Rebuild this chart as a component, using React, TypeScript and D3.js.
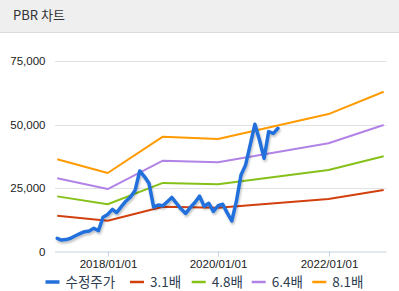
import React from "react";
import * as d3 from "d3";

const priceDates: string[] = [
  "2017-02-01","2017-03-01","2017-04-01","2017-05-01","2017-06-01","2017-07-01","2017-08-01","2017-09-01","2017-10-01","2017-11-01","2017-12-01",
  "2018-01-01","2018-02-01","2018-03-01","2018-04-01","2018-05-01","2018-06-01","2018-07-01","2018-08-01","2018-09-01","2018-10-01","2018-11-01","2018-12-01",
  "2019-01-01","2019-02-01","2019-03-01","2019-04-01","2019-05-01","2019-06-01","2019-07-01","2019-08-01","2019-09-01","2019-10-01","2019-11-01","2019-12-01",
  "2020-01-01","2020-02-01","2020-03-01","2020-04-01","2020-05-01","2020-06-01","2020-07-01","2020-08-01","2020-09-01","2020-10-01","2020-11-01","2020-12-01",
  "2021-01-01","2021-02-01",
];
const priceValues: number[] = [
  5200,4500,4700,5200,6200,7000,7800,8070,9130,8200,13500,
  14600,16600,15300,17650,19800,21500,24000,31700,29500,26900,17500,18300,
  18000,19700,21300,19000,16800,15000,17300,19300,21800,17800,19000,15800,
  18000,18600,15300,12000,19600,30100,34000,42000,50100,44000,36700,47200,
  46500,48500,
];

const bandDates: string[] = ["2017-02-01","2018-01-01","2019-01-01","2020-01-01","2022-01-01","2023-01-01"];
const band31: number[] = [14100,12100,17650,17250,20700,24200];
const band48: number[] = [21700,18600,27000,26450,32100,37500];
const band64: number[] = [28800,24600,35750,35100,42600,49800];
const band81: number[] = [36300,30900,45200,44300,54100,62900];

const seriesNames: string[] = ["수정주가","3.1배","4.8배","6.4배","8.1배"];
const seriesColors: string[] = ["#2370dc","#d2400e","#86c11a","#b183e6","#ff9b00"];
const yTicks: number[] = [0,25000,50000,75000];
const xTickDates: string[] = ["2018-01-01","2020-01-01","2022-01-01"];
const xTickLabels: string[] = ["2018/01/01","2020/01/01","2022/01/01"];
const title = "PBR 차트";

const W = 399, H = 291;
const plotLeft = 55, plotRight = 386.7, plotTop = 61, plotBottom = 251.5;

export default function App() {
  const parse = d3.timeParse("%Y-%m-%d");
  // scale anchored on the tick positions
  const x0 = d3.scaleTime()
    .domain([parse("2018-01-01")!, parse("2022-01-01")!])
    .range([107.7, 328.5]);
  const x = d3.scaleTime()
    .domain([x0.invert(plotLeft), x0.invert(plotRight)])
    .range([plotLeft, plotRight]);
  const y = d3.scaleLinear().domain([0, 75000]).range([plotBottom, plotTop]);

  const line = d3.line<[Date, number]>().x(d => x(d[0])).y(d => y(d[1]));

  const pricePts: [Date, number][] = priceDates.map((d, i) => [parse(d)!, priceValues[i]]);
  const bands = [band31, band48, band64, band81].map(arr =>
    bandDates.map((d, i) => [parse(d)!, arr[i]] as [Date, number])
  );

  const legendSampleX = [45.5, 130, 191.7, 251.7, 312.3];
  const legendY = 282;
  const font = "'Noto Sans CJK KR', 'Noto Sans', sans-serif";
  const numFont = "'Liberation Sans', Arial, sans-serif";

  return (
    <svg width={W} height={H} style={{ position: "absolute", left: 0, top: 0, display: "block" }}>
      <defs>
        <filter id="shadow" x="-10%" y="-10%" width="120%" height="130%">
          <feGaussianBlur in="SourceAlpha" stdDeviation="1" />
          <feOffset dx="1" dy="1.5" result="ob" />
          <feComponentTransfer><feFuncA type="linear" slope="0.25" /></feComponentTransfer>
          <feMerge><feMergeNode /><feMergeNode in="SourceGraphic" /></feMerge>
        </filter>
      </defs>
      <rect x={0} y={0} width={W} height={H} fill="#ffffff" />
      <rect x={0} y={0} width={W} height={32} fill="#efefef" />
      <line x1={0} x2={W} y1={32.5} y2={32.5} stroke="#dcdcdc" strokeWidth={1} />
      <text x={13} y={19.5} fontFamily={font} fontSize={13} fill="#333">{title}</text>

      {yTicks.filter(t => t > 0).map(t => (
        <line key={t} x1={plotLeft} x2={plotRight} y1={Math.round(y(t)) + 0.5} y2={Math.round(y(t)) + 0.5} stroke="#e2e2e2" strokeWidth={1} />
      ))}
      {yTicks.map(t => (
        <text key={t} x={45.5} y={y(t) + 4} textAnchor="end" fontFamily={numFont} fontSize={11.5} fill="#222">
          {d3.format(",")(t)}
        </text>
      ))}

      <line x1={plotLeft} x2={plotRight} y1={plotBottom + 0.5} y2={plotBottom + 0.5} stroke="#c5d3e3" strokeWidth={1} />
      {xTickDates.map((d, i) => {
        const xx = Math.round(x(parse(d)!)) + 0.5;
        return (
          <g key={d}>
            <line x1={xx} x2={xx} y1={plotBottom} y2={plotBottom + 5} stroke="#c5d3e3" strokeWidth={1} />
            <text x={xx} y={267.5} textAnchor="middle" fontFamily={numFont} fontSize={11.5} fill="#222">{xTickLabels[i]}</text>
          </g>
        );
      })}

      {bands.map((b, i) => (
        <path key={i} d={line(b) || ""} fill="none" stroke={seriesColors[i + 1]} strokeWidth={2} strokeLinejoin="round" />
      ))}
      <path d={line(pricePts) || ""} fill="none" stroke={seriesColors[0]} strokeWidth={3.5} strokeLinejoin="round" strokeLinecap="round" filter="url(#shadow)" />

      {seriesNames.map((n, i) => (
        <g key={n}>
          <line x1={legendSampleX[i]} x2={legendSampleX[i] + 14} y1={legendY} y2={legendY} stroke={seriesColors[i]} strokeWidth={i === 0 ? 3.5 : 2.5} />
          <text x={legendSampleX[i] + 20} y={legendY + 5} fontFamily={font} fontSize={13.5} fill="#2e3d52">{n}</text>
        </g>
      ))}
    </svg>
  );
}
